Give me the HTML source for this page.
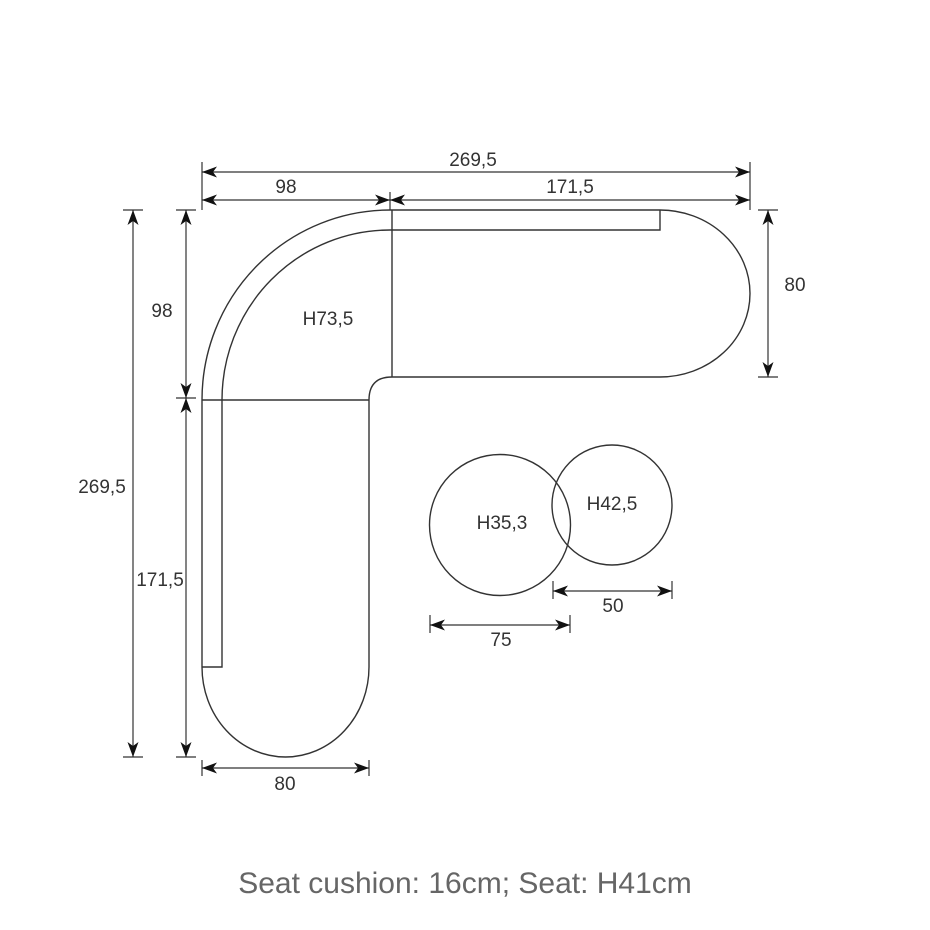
<!DOCTYPE html>
<html><head><meta charset="utf-8"><style>
html,body{margin:0;padding:0;background:#fff;}
svg{display:block;}
text{font-family:"Liberation Sans",Arial,sans-serif;fill:#333;}
</style></head><body>
<svg width="930" height="930" viewBox="0 0 930 930" xmlns="http://www.w3.org/2000/svg">
<defs>
<marker id="a" viewBox="0 0 15 11" refX="15" refY="5.5" markerWidth="15" markerHeight="11" markerUnits="userSpaceOnUse" orient="auto-start-reverse">
<path d="M0,0 L15,5.5 L0,11 L4,5.5 Z" fill="#111"/>
</marker>
</defs>
<g fill="none" stroke="#333" stroke-width="1.4">
<path d="M660,210 L390,210 A188,190 0 0 0 202,400 L202,667 A83.5,90 0 0 0 369,667 L369,400 Q369,377 392,377 L660,377 A90,83.5 0 0 0 660,210 Z"/>
<path d="M660,210 L660,230 L390,230 A168,170 0 0 0 222,400 L222,667 L202,667"/>
<line x1="392" y1="210" x2="392" y2="377"/>
<line x1="202" y1="400" x2="369" y2="400"/>
<circle cx="500" cy="525" r="70.5"/>
<circle cx="612" cy="505" r="60"/>
</g>
<g stroke="#333" stroke-width="1.2" fill="none">
<line x1="202" y1="162" x2="202" y2="210"/>
<line x1="750" y1="162" x2="750" y2="210"/>
<line x1="390" y1="192" x2="390" y2="210"/>
<line x1="123" y1="210" x2="143" y2="210"/>
<line x1="123" y1="757" x2="143" y2="757"/>
<line x1="176" y1="210" x2="196" y2="210"/>
<line x1="176" y1="398" x2="196" y2="398"/>
<line x1="176" y1="757" x2="196" y2="757"/>
<line x1="758" y1="210" x2="778" y2="210"/>
<line x1="758" y1="377" x2="778" y2="377"/>
<line x1="202" y1="760" x2="202" y2="776"/>
<line x1="369" y1="760" x2="369" y2="776"/>
<line x1="430" y1="615" x2="430" y2="633"/>
<line x1="570" y1="615" x2="570" y2="633"/>
<line x1="553" y1="581" x2="553" y2="599"/>
<line x1="672" y1="581" x2="672" y2="599"/>
</g>
<g stroke="#333" stroke-width="1.2" marker-start="url(#a)" marker-end="url(#a)">
<line x1="202" y1="172" x2="750" y2="172"/>
<line x1="202" y1="200" x2="390" y2="200"/>
<line x1="390" y1="200" x2="750" y2="200"/>
<line x1="133" y1="210" x2="133" y2="757"/>
<line x1="186" y1="210" x2="186" y2="398"/>
<line x1="186" y1="398" x2="186" y2="757"/>
<line x1="768" y1="210" x2="768" y2="377"/>
<line x1="202" y1="768" x2="369" y2="768"/>
<line x1="430" y1="625" x2="570" y2="625"/>
<line x1="553" y1="591" x2="672" y2="591"/>
</g>
<g font-size="19">
<text x="473" y="166" text-anchor="middle">269,5</text>
<text x="286" y="193" text-anchor="middle">98</text>
<text x="570" y="193" text-anchor="middle">171,5</text>
<text x="795" y="291" text-anchor="middle">80</text>
<text x="162" y="317" text-anchor="middle">98</text>
<text x="102" y="493" text-anchor="middle">269,5</text>
<text x="160" y="586" text-anchor="middle">171,5</text>
<text x="328" y="325" text-anchor="middle">H73,5</text>
<text x="502" y="529" text-anchor="middle">H35,3</text>
<text x="612" y="510" text-anchor="middle">H42,5</text>
<text x="613" y="612" text-anchor="middle">50</text>
<text x="501" y="646" text-anchor="middle">75</text>
<text x="285" y="790" text-anchor="middle">80</text>
</g>
<text x="465" y="893" text-anchor="middle" font-size="30" style="fill:#666">Seat cushion: 16cm; Seat: H41cm</text>
</svg>
</body></html>
